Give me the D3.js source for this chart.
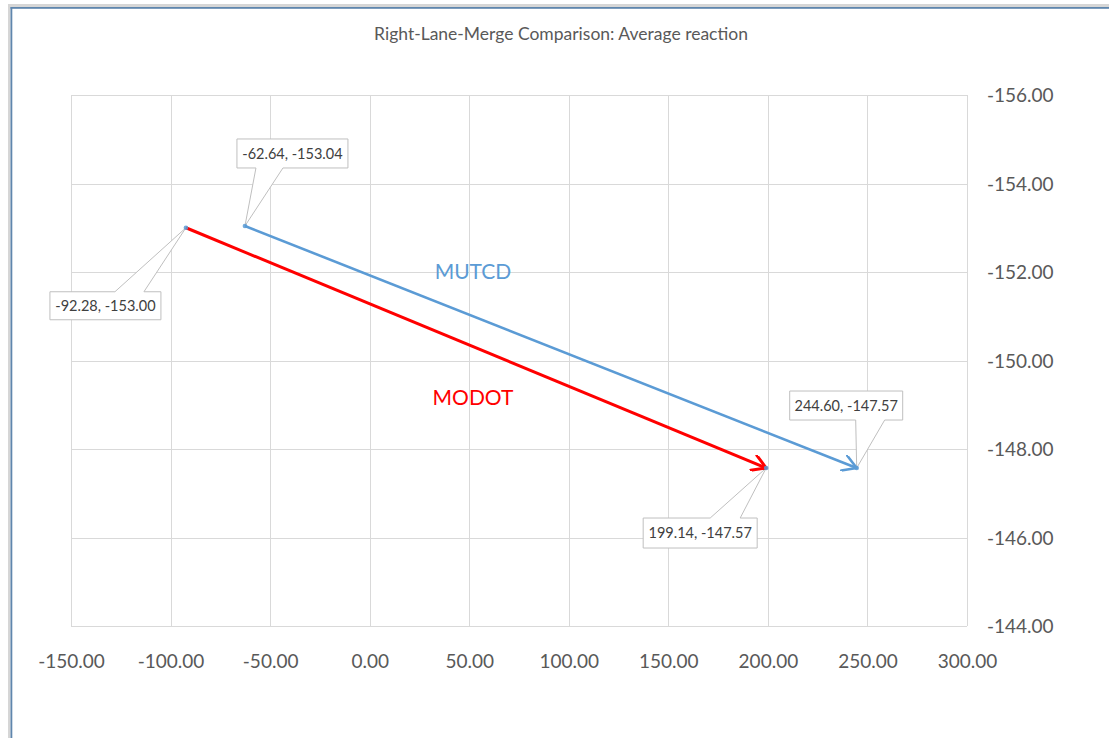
<!DOCTYPE html>
<html>
<head>
<meta charset="utf-8">
<script src="https://cdn.jsdelivr.net/npm/d3@7"></script>
<style>
  html, body { margin: 0; padding: 0; background: #fff; }
  svg { display: block; font-family: Lato, "Open Sans", sans-serif; }
</style>
</head>
<body>
<svg id="chart" width="1109" height="738"></svg>
<script>
// ---- data ----
const chartTitle = "Right-Lane-Merge Comparison: Average reaction";
const seriesNames = ["MODOT", "MUTCD"];
const modotX = [-92.28, 199.14];
const modotY = [-153.00, -147.57];
const mutcdX = [-62.64, 244.60];
const mutcdY = [-153.04, -147.57];
const xTicks = [-150, -100, -50, 0, 50, 100, 150, 200, 250, 300];
const yTicks = [-156, -154, -152, -150, -148, -146, -144];

// ---- layout ----
const W = 1109, H = 738;
const plot = { left: 71, right: 967, top: 95, bottom: 626 };
const colors = { MODOT: "#FF0000", MUTCD: "#5B9BD5" };
// label callout offsets relative to point: box [dx0, dx1, dy0, dy1], wedge base [wx0, wx1]
const calloutLayout = {
  MODOT: [
    { box: [-136, -25, 64, 92], wedge: [-71, -42] },
    { box: [-123, -9, 50, 80], wedge: [-56, -26] }
  ],
  MUTCD: [
    { box: [-8, 103, -87, -58], wedge: [11, 38] },
    { box: [-67, 46, -77, -48], wedge: [-1, 28] }
  ]
};
const nameLabelPos = { MUTCD: [473, 279], MODOT: [473, 405] };

const svg = d3.select("#chart");

// frame
svg.append("rect").attr("x", 8).attr("y", 4).attr("width", W - 8).attr("height", 3).attr("fill", "#d6d6d6");
svg.append("rect").attr("x", 8).attr("y", 4).attr("width", 2.5).attr("height", H - 4).attr("fill", "#d6d6d6");
svg.append("rect").attr("x", 10.5).attr("y", 7).attr("width", W - 10.5).attr("height", 1.8).attr("fill", "#5f86ad");
svg.append("rect").attr("x", 10.5).attr("y", 7).attr("width", 1.8).attr("height", H - 7).attr("fill", "#5f86ad");

const x = d3.scaleLinear().domain([-150, 300]).range([plot.left, plot.right]);
const y = d3.scaleLinear().domain([-156, -144]).range([plot.top, plot.bottom]);

// title
svg.append("text")
  .attr("x", 561).attr("y", 40)
  .attr("text-anchor", "middle")
  .attr("fill", "#595959")
  .attr("font-size", 17.5)
  .text(chartTitle);

// gridlines
const grid = svg.append("g").attr("stroke", "#d9d9d9").attr("stroke-width", 1).attr("shape-rendering", "crispEdges");
grid.selectAll(".vx").data(xTicks).join("line")
  .attr("x1", d => Math.round(x(d)) + 0.5).attr("x2", d => Math.round(x(d)) + 0.5)
  .attr("y1", plot.top).attr("y2", plot.bottom);
grid.selectAll(".hy").data(yTicks).join("line")
  .attr("y1", d => Math.round(y(d)) + 0.5).attr("y2", d => Math.round(y(d)) + 0.5)
  .attr("x1", plot.left).attr("x2", plot.right);

const fmt = d => d.toFixed(2);

// x axis
const xAxis = svg.append("g")
  .attr("transform", `translate(0,${plot.bottom})`)
  .call(d3.axisBottom(x).tickValues(xTicks).tickFormat(fmt).tickSize(0).tickPadding(0));
xAxis.select(".domain").remove();
xAxis.selectAll("text")
  .attr("y", 35).attr("dy", "0.35em")
  .attr("fill", "#595959").attr("font-size", 19).attr("font-family", "Lato, sans-serif");

// y axis (right side)
const yAxis = svg.append("g")
  .attr("transform", `translate(${plot.right},0)`)
  .call(d3.axisRight(y).tickValues(yTicks).tickFormat(fmt).tickSize(0).tickPadding(20));
yAxis.select(".domain").remove();
yAxis.selectAll("text")
  .attr("dy", "0.35em")
  .attr("fill", "#595959").attr("font-size", 19).attr("font-family", "Lato, sans-serif");

// arrow markers
const defs = svg.append("defs");
seriesNames.forEach(name => {
  const sw = name === "MODOT" ? 3 : 2.6;
  defs.append("marker")
    .attr("id", "arrow-" + name)
    .attr("viewBox", "0 0 12 12")
    .attr("refX", 10.5).attr("refY", 6)
    .attr("markerWidth", 17 / sw).attr("markerHeight", 17 / sw)
    .attr("markerUnits", "strokeWidth")
    .attr("orient", "auto")
    .append("path")
    .attr("d", "M1,0.3 L10.5,6 L1,11.7")
    .attr("fill", "none")
    .attr("stroke", colors[name])
    .attr("stroke-width", 12 / 17 * sw)
    .attr("stroke-linecap", "round")
    .attr("stroke-linejoin", "round");
});

const series = [
  { name: "MODOT", xs: modotX, ys: modotY },
  { name: "MUTCD", xs: mutcdX, ys: mutcdY }
];

const line = d3.line().x(d => x(d[0])).y(d => y(d[1]));

// callouts (drawn beneath lines)
const calloutG = svg.append("g");
series.forEach(s => {
  s.xs.forEach((xv, i) => {
    const px = x(xv), py = y(s.ys[i]);
    const L = calloutLayout[s.name][i];
    const bx0 = px + L.box[0], bx1 = px + L.box[1];
    const by0 = py + L.box[2], by1 = py + L.box[3];
    const w0 = px + L.wedge[0], w1 = px + L.wedge[1];
    let d;
    if (L.box[2] > 0) {
      d = `M${bx0},${by0} H${w0} L${px},${py} L${w1},${by0} H${bx1} V${by1} H${bx0} Z`;
    } else {
      d = `M${bx0},${by0} H${bx1} V${by1} H${w1} L${px},${py} L${w0},${by1} H${bx0} Z`;
    }
    calloutG.append("path")
      .attr("d", d)
      .attr("fill", "#fff")
      .attr("stroke", "#bfbfbf")
      .attr("stroke-width", 1);
    calloutG.append("text")
      .attr("x", (bx0 + bx1) / 2)
      .attr("y", (by0 + by1) / 2)
      .attr("dy", "0.36em")
      .attr("text-anchor", "middle")
      .attr("fill", "#404040")
      .attr("font-size", 14.5)
      .text(`${fmt(xv)}, ${fmt(s.ys[i])}`);
  });
});

// lines with arrows
series.forEach(s => {
  const pts = s.xs.map((xv, i) => [xv, s.ys[i]]);
  svg.append("path")
    .datum(pts)
    .attr("d", line)
    .attr("fill", "none")
    .attr("stroke", colors[s.name])
    .attr("stroke-width", s.name === "MODOT" ? 3 : 2.6)
    .attr("marker-end", `url(#arrow-${s.name})`);
});

// point markers
series.forEach(s => {
  svg.selectAll(null).data(s.xs.map((xv, i) => [xv, s.ys[i]])).join("circle")
    .attr("cx", d => x(d[0])).attr("cy", d => y(d[1]))
    .attr("r", 2.3)
    .attr("fill", "#5B9BD5")
    .attr("opacity", 0.85);
});

// series name labels
seriesNames.forEach(name => {
  svg.append("text")
    .attr("x", nameLabelPos[name][0]).attr("y", nameLabelPos[name][1])
    .attr("text-anchor", "middle")
    .attr("fill", colors[name])
    .attr("font-size", 21)
    .text(name);
});
</script>
</body>
</html>
